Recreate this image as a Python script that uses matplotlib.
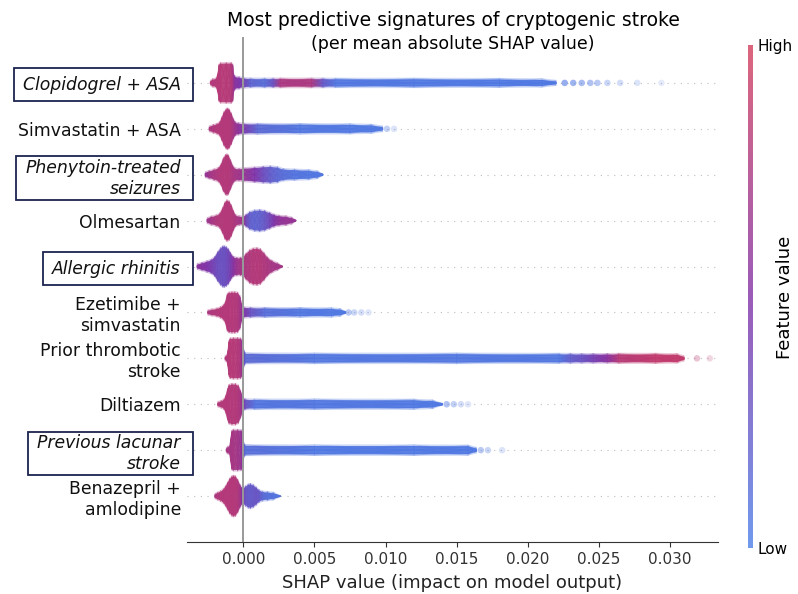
import numpy as np
import matplotlib
matplotlib.use("Agg")
import matplotlib.pyplot as plt
from matplotlib.colors import LinearSegmentedColormap
from matplotlib.cm import ScalarMappable
from matplotlib.patches import Rectangle

# ---------------------------------------------------------------------------
# Features, top to bottom
features = [
    "Clopidogrel + ASA",
    "Simvastatin + ASA",
    "Phenytoin-treated\nseizures",
    "Olmesartan",
    "Allergic rhinitis",
    "Ezetimibe +\nsimvastatin",
    "Prior thrombotic\nstroke",
    "Diltiazem",
    "Previous lacunar\nstroke",
    "Benazepril +\namlodipine",
]
highlighted = [
    "Clopidogrel + ASA",
    "Phenytoin-treated\nseizures",
    "Allergic rhinitis",
    "Previous lacunar\nstroke",
]

x_ticks = [0.000, 0.005, 0.010, 0.015, 0.020, 0.025, 0.030]

# Swarm profiles: SHAP value, relative point density (0..1), mean feature value (0=low, 1=high)
clopidogrel_shap = [-0.00232, -0.00215, -0.00190, -0.00178, -0.00170, -0.00160, -0.00120, -0.00085,
                    -0.00075, -0.00068, -0.00060, -0.00030, 0.00000, 0.00050, 0.00150, 0.00210,
                    0.00260, 0.00480, 0.00560, 0.00650, 0.01200, 0.01800, 0.02100, 0.02200]
clopidogrel_density = [0.05, 0.14, 0.18, 0.45, 0.90, 0.97, 0.98, 0.98, 0.90, 0.40, 0.28, 0.24,
                       0.20, 0.17, 0.17, 0.17, 0.17, 0.17, 0.17, 0.16, 0.16, 0.15, 0.13, 0.05]
clopidogrel_value = [0.80, 0.80, 0.80, 0.82, 0.82, 0.82, 0.82, 0.80, 0.75, 0.65, 0.55, 0.48,
                     0.40, 0.18, 0.12, 0.30, 0.75, 0.75, 0.25, 0.06, 0.05, 0.05, 0.05, 0.05]
clopidogrel_tail_shap = [0.0226, 0.0232, 0.0238, 0.0244, 0.0249, 0.0256, 0.0265, 0.0277, 0.0294]
clopidogrel_tail_value = [0.05] * 9
clopidogrel_tail_alpha = [0.6, 0.55, 0.5, 0.45, 0.4, 0.3, 0.25, 0.2, 0.15]

simvastatin_shap = [-0.00240, -0.00210, -0.00185, -0.00165, -0.00150, -0.00135, -0.00120, -0.00110,
                    -0.00100, -0.00085, -0.00070, -0.00055, -0.00035, 0.0, 0.0010, 0.0040, 0.0075,
                    0.0090, 0.0098]
simvastatin_density = [0.07, 0.15, 0.20, 0.30, 0.55, 0.82, 0.97, 1.00, 0.95, 0.75, 0.45, 0.28,
                       0.24, 0.21, 0.20, 0.19, 0.18, 0.15, 0.06]
simvastatin_value = [0.75, 0.78, 0.80, 0.80, 0.80, 0.80, 0.80, 0.80, 0.80, 0.78, 0.72, 0.65,
                     0.58, 0.45, 0.15, 0.06, 0.05, 0.05, 0.05]
simvastatin_tail_shap = [0.0101, 0.0106]
simvastatin_tail_value = [0.05, 0.05]
simvastatin_tail_alpha = [0.35, 0.2]

phenytoin_shap = [-0.00268, -0.00240, -0.00205, -0.00175, -0.00155, -0.00140, -0.00125, -0.00115,
                  -0.00105, -0.00090, -0.00075, -0.00060, -0.00030, 0.0, 0.0008, 0.0014, 0.0019,
                  0.0024, 0.0028, 0.0036, 0.0046, 0.0052, 0.0056]
phenytoin_density = [0.07, 0.14, 0.22, 0.30, 0.50, 0.80, 0.97, 1.00, 0.95, 0.70, 0.42, 0.28,
                     0.25, 0.28, 0.32, 0.36, 0.38, 0.34, 0.24, 0.21, 0.18, 0.12, 0.03]
phenytoin_value = [0.60, 0.68, 0.75, 0.78, 0.80, 0.80, 0.80, 0.80, 0.80, 0.78, 0.75, 0.72,
                   0.68, 0.62, 0.48, 0.32, 0.22, 0.16, 0.12, 0.08, 0.06, 0.06, 0.06]

olmesartan_shap = [-0.00255, -0.00225, -0.00190, -0.00165, -0.00145, -0.00128, -0.00115, -0.00100,
                   -0.00085, -0.00070, -0.00055, -0.00030, 0.0, 0.00020, 0.00045, 0.00080, 0.00115,
                   0.00150, 0.00185, 0.00215, 0.00250, 0.00300, 0.00340, 0.00370]
olmesartan_density = [0.07, 0.16, 0.22, 0.32, 0.60, 0.90, 1.00, 0.95, 0.75, 0.45, 0.24, 0.17,
                      0.17, 0.26, 0.40, 0.48, 0.50, 0.46, 0.36, 0.26, 0.20, 0.17, 0.10, 0.02]
olmesartan_value = [0.65, 0.72, 0.78, 0.80, 0.80, 0.80, 0.80, 0.80, 0.80, 0.78, 0.75, 0.72,
                    0.65, 0.35, 0.22, 0.18, 0.20, 0.25, 0.35, 0.48, 0.58, 0.62, 0.62, 0.62]

rhinitis_shap = [-0.00325, -0.00290, -0.00255, -0.00225, -0.00200, -0.00180, -0.00160, -0.00145,
                 -0.00134, -0.00120, -0.00105, -0.00090, -0.00070, -0.00045, -0.00020, 0.0,
                 0.00020, 0.00045, 0.00070, 0.00096, 0.00120, 0.00145, 0.00170, 0.00200,
                 0.00240, 0.00275]
rhinitis_density = [0.07, 0.14, 0.22, 0.30, 0.45, 0.70, 0.90, 0.99, 1.00, 0.96, 0.85, 0.65,
                    0.45, 0.40, 0.40, 0.45, 0.62, 0.80, 0.88, 0.90, 0.85, 0.65, 0.42, 0.25,
                    0.12, 0.02]
rhinitis_value = [0.55, 0.52, 0.48, 0.42, 0.36, 0.32, 0.30, 0.30, 0.30, 0.32, 0.36, 0.42,
                  0.55, 0.65, 0.70, 0.72, 0.76, 0.78, 0.80, 0.80, 0.80, 0.78, 0.75, 0.72,
                  0.70, 0.70]

ezetimibe_shap = [-0.00250, -0.00220, -0.00185, -0.00160, -0.00140, -0.00125, -0.00112, -0.00100,
                  -0.00080, -0.00060, -0.00040, -0.00025, -0.00012, 0.0, 0.0005, 0.0015, 0.0040,
                  0.0062, 0.0068, 0.0072]
ezetimibe_density = [0.06, 0.10, 0.15, 0.22, 0.32, 0.50, 0.90, 0.98, 1.00, 1.00, 0.97, 0.80,
                     0.40, 0.22, 0.19, 0.18, 0.17, 0.16, 0.12, 0.04]
ezetimibe_value = [0.75, 0.78, 0.80, 0.80, 0.80, 0.80, 0.80, 0.80, 0.80, 0.80, 0.78, 0.72,
                   0.62, 0.50, 0.30, 0.12, 0.06, 0.05, 0.05, 0.05]
ezetimibe_tail_shap = [0.0074, 0.0078, 0.0083, 0.0088]
ezetimibe_tail_value = [0.05] * 4
ezetimibe_tail_alpha = [0.4, 0.3, 0.25, 0.18]

thrombotic_shap = [-0.00128, -0.00115, -0.00108, -0.00100, -0.00092, -0.00070, -0.00040, -0.00020,
                   -0.00008, 0.0, 0.00015, 0.0050, 0.0150, 0.0222, 0.0230, 0.0238, 0.0246,
                   0.0256, 0.0264, 0.0290, 0.0305, 0.0310]
thrombotic_density = [0.06, 0.10, 0.35, 0.85, 0.98, 1.00, 1.00, 0.98, 0.90, 0.45, 0.20, 0.19,
                      0.19, 0.18, 0.18, 0.17, 0.17, 0.17, 0.18, 0.18, 0.16, 0.05]
thrombotic_value = [0.78, 0.80, 0.80, 0.82, 0.82, 0.82, 0.80, 0.75, 0.60, 0.40, 0.15, 0.06,
                    0.06, 0.06, 0.22, 0.28, 0.40, 0.55, 0.82, 0.88, 0.88, 0.88]
thrombotic_tail_shap = [0.0319, 0.0328]
thrombotic_tail_value = [0.85, 0.85]
thrombotic_tail_alpha = [0.3, 0.2]

diltiazem_shap = [-0.00180, -0.00155, -0.00135, -0.00122, -0.00110, -0.00100, -0.00080, -0.00055,
                  -0.00035, -0.00020, -0.00008, 0.0, 0.00015, 0.0008, 0.0050, 0.0120, 0.0133,
                  0.0140]
diltiazem_density = [0.06, 0.12, 0.20, 0.40, 0.75, 0.95, 1.00, 1.00, 0.92, 0.65, 0.40, 0.28,
                     0.20, 0.19, 0.19, 0.18, 0.14, 0.04]
diltiazem_value = [0.78, 0.80, 0.80, 0.80, 0.80, 0.80, 0.80, 0.80, 0.78, 0.72, 0.62, 0.52,
                   0.30, 0.08, 0.06, 0.05, 0.05, 0.05]
diltiazem_tail_shap = [0.0143, 0.0148, 0.0153, 0.0158]
diltiazem_tail_value = [0.05] * 4
diltiazem_tail_alpha = [0.45, 0.35, 0.25, 0.18]

lacunar_shap = [-0.00120, -0.00108, -0.00095, -0.00088, -0.00080, -0.00070, -0.00040, -0.00015,
                -0.00006, 0.0, 0.00012, 0.0050, 0.0120, 0.0158, 0.0164]
lacunar_density = [0.05, 0.12, 0.15, 0.55, 0.95, 1.00, 1.00, 0.98, 0.85, 0.40, 0.20, 0.19,
                   0.19, 0.18, 0.06]
lacunar_value = [0.72, 0.72, 0.72, 0.72, 0.72, 0.72, 0.70, 0.62, 0.50, 0.35, 0.12, 0.05,
                 0.05, 0.05, 0.05]
lacunar_tail_shap = [0.0167, 0.0172, 0.0182]
lacunar_tail_value = [0.05] * 3
lacunar_tail_alpha = [0.4, 0.3, 0.2]

benazepril_shap = [-0.00200, -0.00180, -0.00160, -0.00140, -0.00125, -0.00110, -0.00095, -0.00080,
                   -0.00068, -0.00055, -0.00040, -0.00025, -0.00010, 0.0, 0.00015, 0.00035,
                   0.00050, 0.00070, 0.00090, 0.00110, 0.00135, 0.00170, 0.00210, 0.00260]
benazepril_density = [0.06, 0.13, 0.20, 0.30, 0.45, 0.65, 0.85, 0.97, 1.00, 0.97, 0.80, 0.55,
                      0.38, 0.33, 0.45, 0.55, 0.58, 0.52, 0.40, 0.26, 0.18, 0.16, 0.12, 0.02]
benazepril_value = [0.75, 0.78, 0.80, 0.80, 0.80, 0.80, 0.80, 0.80, 0.80, 0.80, 0.78, 0.72,
                    0.55, 0.40, 0.28, 0.24, 0.24, 0.25, 0.28, 0.25, 0.15, 0.10, 0.08, 0.08]

profiles = [
    (clopidogrel_shap, clopidogrel_density, clopidogrel_value),
    (simvastatin_shap, simvastatin_density, simvastatin_value),
    (phenytoin_shap, phenytoin_density, phenytoin_value),
    (olmesartan_shap, olmesartan_density, olmesartan_value),
    (rhinitis_shap, rhinitis_density, rhinitis_value),
    (ezetimibe_shap, ezetimibe_density, ezetimibe_value),
    (thrombotic_shap, thrombotic_density, thrombotic_value),
    (diltiazem_shap, diltiazem_density, diltiazem_value),
    (lacunar_shap, lacunar_density, lacunar_value),
    (benazepril_shap, benazepril_density, benazepril_value),
]
tails = {
    0: (clopidogrel_tail_shap, clopidogrel_tail_value, clopidogrel_tail_alpha),
    1: (simvastatin_tail_shap, simvastatin_tail_value, simvastatin_tail_alpha),
    5: (ezetimibe_tail_shap, ezetimibe_tail_value, ezetimibe_tail_alpha),
    6: (thrombotic_tail_shap, thrombotic_tail_value, thrombotic_tail_alpha),
    7: (diltiazem_tail_shap, diltiazem_tail_value, diltiazem_tail_alpha),
    8: (lacunar_tail_shap, lacunar_tail_value, lacunar_tail_alpha),
}

# ---------------------------------------------------------------------------
cmap = LinearSegmentedColormap.from_list(
    "low_high", [(0.0, "#4c80e8"), (0.5, "#8232a6"), (1.0, "#d43e5c")])

MAX_HALF = 0.42   # half thickness of the densest part of a swarm, in row units
HALO = 0.035      # soft fringe around each swarm

W, H = 798, 594
fig = plt.figure(figsize=(W / 100, H / 100), dpi=100)
ax = fig.add_axes([187 / W, 52 / H, 531 / W, 505 / H])

n = len(features)
ax.set_xlim(-0.00396, 0.03338)
ax.set_ylim(-1, n)

for i in range(n):
    ax.axhline(n - 1 - i, color="#bdbdbd", lw=0.8, dashes=(1, 5), zorder=0)


def draw_swarm(y, xs, dens, vals):
    xs = np.asarray(xs, float)
    vals = np.asarray(vals, float)
    half = np.asarray(dens, float) * MAX_HALF
    for extra, alpha in ((HALO, 0.28), (0.0, 0.92)):
        h = half + extra * (half > 0.02)
        X = np.vstack([xs, xs, xs])
        Y = np.vstack([y - h, np.full_like(xs, y), y + h])
        C = np.vstack([vals, vals, vals])
        ax.pcolormesh(X, Y, C, cmap=cmap, vmin=0, vmax=1, shading="gouraud",
                      alpha=alpha, zorder=2, edgecolors="none")


for i, (xs, dens, vals) in enumerate(profiles):
    y = n - 1 - i
    draw_swarm(y, xs, dens, vals)
    if i in tails:
        tx, tv, ta = tails[i]
        ax.scatter(tx, [y] * len(tx), c=cmap(np.asarray(tv)), s=22,
                   alpha=np.asarray(ta), linewidths=0, zorder=2)

ax.axvline(0, color="#999999", lw=1.4, zorder=3)

# axes styling
for side in ("top", "right", "left"):
    ax.spines[side].set_visible(False)
ax.spines["bottom"].set_color("#333333")
ax.set_yticks(range(n))
ax.set_yticklabels(features[::-1], fontsize=12.4, color="#111111")
ax.tick_params(axis="y", length=0, pad=4.5)
ax.set_xticks(x_ticks)
ax.set_xticklabels([f"{t:.3f}" for t in x_ticks], fontsize=11, color="#333333")
ax.tick_params(axis="x", color="#333333")
ax.set_xlabel("SHAP value (impact on model output)", fontsize=13, color="#222222",
              labelpad=5)

fig.text(453 / W, 1 - 20 / H, "Most predictive signatures of cryptogenic stroke",
         ha="center", va="center", fontsize=13.5)
fig.text(453 / W, 1 - 44 / H, "(per mean absolute SHAP value)",
         ha="center", va="center", fontsize=12.5)

# colour bar
cax = fig.add_axes([748 / W, 46 / H, 5 / W, 503 / H])
sm = ScalarMappable(cmap=cmap)
sm.set_array([0, 1])
cb = fig.colorbar(sm, cax=cax, ticks=[0, 1], alpha=0.8)
cb.set_ticklabels(["Low", "High"])
cb.ax.tick_params(labelsize=11, length=0)
cb.outline.set_visible(False)
fig.text(785 / W, 1 - 297 / H, "Feature value", rotation=90,
         ha="center", va="center", fontsize=13)

# frame the highlighted feature names
for lbl in ax.get_yticklabels():
    if lbl.get_text() in highlighted:
        lbl.set_fontstyle("italic")
fig.canvas.draw()
renderer = fig.canvas.get_renderer()
for lbl in ax.get_yticklabels():
    if lbl.get_text() not in highlighted:
        continue
    bb = lbl.get_window_extent(renderer)
    vpad = 2.5 if "\n" in lbl.get_text() else 7.5
    x0, x1 = bb.x0 - 9, bb.x1 + 12
    y0, y1 = bb.y0 - vpad, bb.y1 + vpad
    fig.add_artist(Rectangle((x0 / W, y0 / H), (x1 - x0) / W, (y1 - y0) / H,
                             transform=fig.transFigure, fill=False,
                             ec="#1c2450", lw=1.3, zorder=5))

fig.savefig("out.png", dpi=100)
